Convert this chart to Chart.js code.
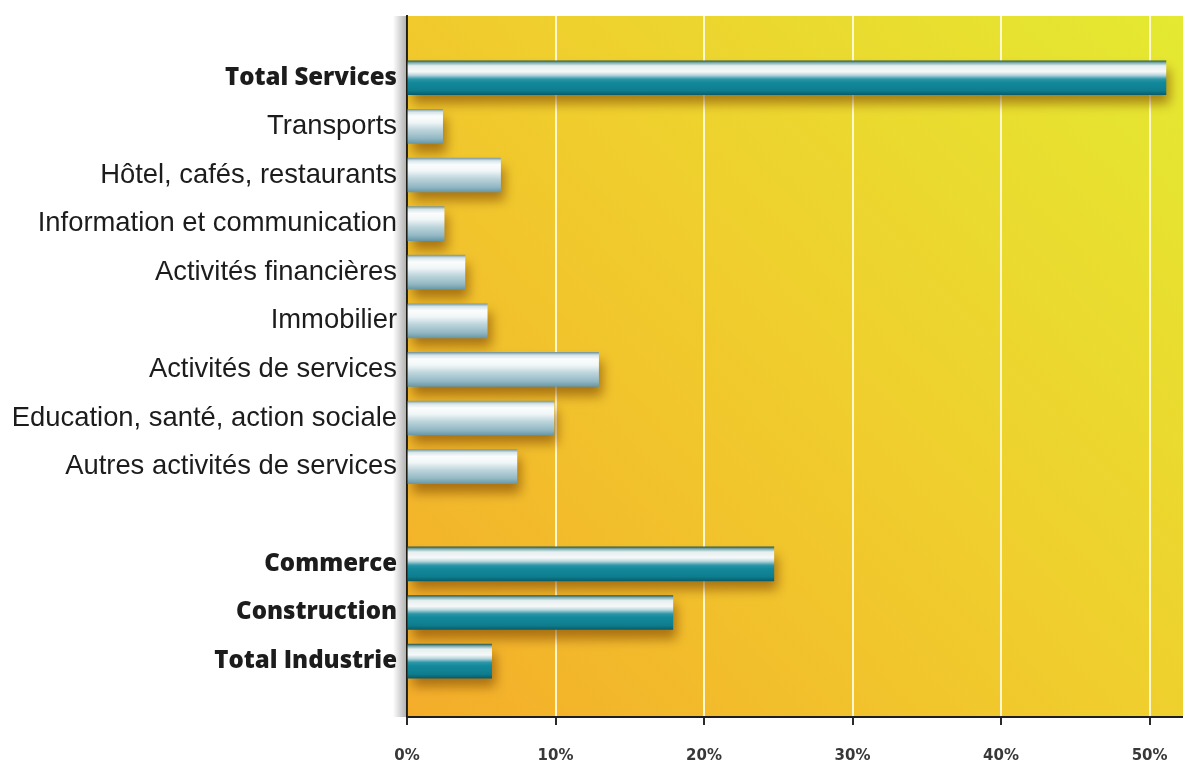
<!DOCTYPE html>
<html><head><meta charset="utf-8">
<script src="https://cdn.jsdelivr.net/npm/chart.js@4/dist/chart.umd.min.js"></script>
<style>html,body{margin:0;padding:0;background:#fff;} #wrap{width:1183px;height:764px;position:relative;}</style>
</head><body><div id="wrap"><canvas id="c"></canvas></div>
<script>
const categories = ['Total Services','Transports','Hôtel, cafés, restaurants','Information et communication','Activités financières','Immobilier','Activités de services','Education, santé, action sociale','Autres activités de services','','Commerce','Construction','Total Industrie'];
const values = [51.1, 2.4, 6.3, 2.5, 3.9, 5.4, 12.9, 9.9, 7.4, null, 24.7, 17.9, 5.7];
const boldRows = [true,false,false,false,false,false,false,false,false,false,true,true,true];
const xTicks = [0, 10, 20, 30, 40, 50];

const BAR_H = 34;

function barFill(ctx) {
  const chart = ctx.chart;
  const i = ctx.dataIndex;
  if (ctx.type !== 'data' || !chart.chartArea || !chart.scales.y) return '#1a8a9a';
  const y = chart.scales.y.getPixelForValue(i);
  const g = chart.ctx.createLinearGradient(0, y - BAR_H / 2, 0, y + BAR_H / 2);
  if (boldRows[i]) {
    g.addColorStop(0, '#2c5a50');
    g.addColorStop(0.06, '#7eaeb0');
    g.addColorStop(0.15, '#e6eff0');
    g.addColorStop(0.32, '#f6f8f8');
    g.addColorStop(0.42, '#bcd8de');
    g.addColorStop(0.54, '#2c97a8');
    g.addColorStop(0.64, '#13899b');
    g.addColorStop(0.88, '#0e7d8e');
    g.addColorStop(1, '#0a5d6a');
  } else {
    g.addColorStop(0, '#7a9aa0');
    g.addColorStop(0.08, '#d6e4e8');
    g.addColorStop(0.2, '#fbfdfd');
    g.addColorStop(0.38, '#f0f6f7');
    g.addColorStop(0.6, '#bdd5dc');
    g.addColorStop(0.85, '#92b8c4');
    g.addColorStop(1, '#6a98a6');
  }
  return g;
}

const bgPlugin = {
  id: 'bg',
  beforeDraw(chart) {
    const {ctx, chartArea: a} = chart;
    ctx.save();
    const g = ctx.createLinearGradient(a.left, a.bottom, a.right, a.top);
    g.addColorStop(0, '#f4ad2a');
    g.addColorStop(0.5, '#f0cd2d');
    g.addColorStop(1, '#e4e931');
    ctx.fillStyle = g;
    ctx.fillRect(a.left, a.top, a.right - a.left, a.bottom - a.top);
    ctx.restore();
  },
  beforeDatasetsDraw(chart) {
    const {ctx, chartArea: a} = chart;
    ctx.save();
    const s = ctx.createLinearGradient(a.left - 14, 0, a.left, 0);
    s.addColorStop(0, 'rgba(0,0,0,0)');
    s.addColorStop(1, 'rgba(0,0,0,0.32)');
    ctx.fillStyle = s;
    ctx.fillRect(a.left - 14, a.top, 14, a.bottom - a.top);
    ctx.restore();
    ctx.save();
    ctx.shadowColor = 'rgba(120,65,0,0.6)';
    ctx.shadowBlur = 11;
    ctx.shadowOffsetX = 4;
    ctx.shadowOffsetY = 9;
  },
  afterDatasetsDraw(chart) {
    chart.ctx.restore();
  }
};

function zeroPad(scale) {
  scale.paddingTop = 0; scale.paddingBottom = 0; scale.paddingLeft = 0; scale.paddingRight = 0;
}

new Chart(document.getElementById('c'), {
  type: 'bar',
  data: {
    datasets: [{
      data: values.map((v, i) => ({x: v, y: i})),
      backgroundColor: barFill,
      borderWidth: 0,
      barThickness: BAR_H
    }]
  },
  options: {
    indexAxis: 'y',
    responsive: true,
    maintainAspectRatio: false,
    animation: false,
    layout: {padding: {top: 16, right: 0, bottom: 0, left: 0}},
    plugins: {legend: {display: false}, tooltip: {enabled: false}},
    scales: {
      y: {
        type: 'linear',
        reverse: true,
        offset: false,
        min: -1.27,
        max: 13.15,
        afterFit(scale) { scale.width = 407; zeroPad(scale); },
        grid: {display: false, drawTicks: false, offset: false},
        border: {display: true, color: '#2a2a1e', width: 2},
        ticks: {
          stepSize: 1,
          includeBounds: false,
          autoSkip: false,
          padding: 10,
          color: '#1c1c1c',
          callback(v) {
            return (Number.isInteger(v) && v >= 0 && v < categories.length) ? categories[v] : '';
          },
          font(ctx) {
            const v = ctx.tick ? ctx.tick.value : 0;
            const b = Number.isInteger(v) && boldRows[v];
            return b ? {family: 'Open Sans', size: 24, weight: '800'} : {family: 'Liberation Sans', size: 27.4, weight: 'normal'};
          }
        }
      },
      x: {
        type: 'linear',
        min: 0,
        max: 52.25,
        afterFit(scale) { scale.height = 47; zeroPad(scale); },
        border: {display: true, color: '#1e1e1e', width: 2},
        grid: {
          lineWidth: 2,
          tickLength: 8,
          color(ctx) {
            const v = ctx.tick ? ctx.tick.value : -1;
            return (xTicks.includes(v) && v !== 0) ? 'rgba(255,250,215,0.95)' : 'rgba(0,0,0,0)';
          },
          tickColor(ctx) {
            const v = ctx.tick ? ctx.tick.value : -1;
            return xTicks.includes(v) ? '#2a2a2a' : 'rgba(0,0,0,0)';
          }
        },
        ticks: {
          stepSize: 10,
          includeBounds: false,
          autoSkip: false,
          maxRotation: 0,
          padding: 22,
          color: '#383838',
          font: {family: 'DejaVu Sans', size: 15, weight: 'bold'},
          callback(v) { return xTicks.includes(v) ? v + '%' : ''; }
        }
      }
    }
  },
  plugins: [bgPlugin]
});
</script>
</body></html>
